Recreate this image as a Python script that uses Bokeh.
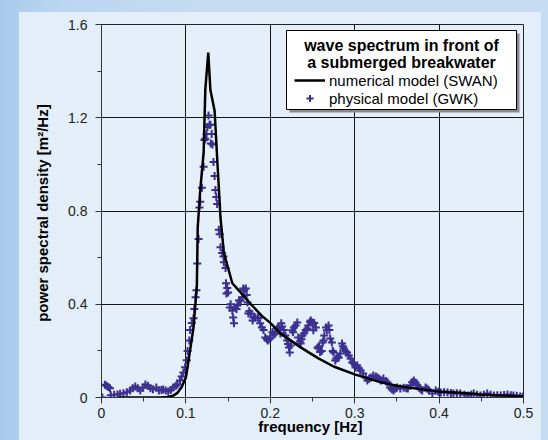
from bokeh.plotting import figure
from bokeh.embed import file_html
from bokeh.resources import INLINE
from bokeh.models import (Range1d, FixedTicker, Label, BoxAnnotation, Legend,
                          LegendItem, BasicTickFormatter)

# ---- data -------------------------------------------------------------
swan_f = [0.02, 0.03, 0.04, 0.05, 0.06, 0.07, 0.078, 0.085, 0.09, 0.095, 0.1,
          0.104, 0.109, 0.111, 0.113, 0.114, 0.117, 0.121, 0.123, 0.1265, 0.129,
          0.134, 0.137, 0.141, 0.145, 0.155, 0.165, 0.177, 0.19, 0.2, 0.212,
          0.224, 0.236, 0.256, 0.275, 0.3, 0.33, 0.35, 0.375, 0.4, 0.425, 0.45,
          0.475, 0.5]
swan_s = [0, 0, 0, 0, 0, 0, 0.002, 0.008, 0.02, 0.045, 0.086,
          0.18, 0.30, 0.39, 0.48, 0.73, 0.89, 1.05, 1.32, 1.48, 1.32,
          1.23, 1.03, 0.77, 0.62, 0.49, 0.45, 0.40, 0.35, 0.32, 0.275,
          0.245, 0.215, 0.17, 0.133, 0.099, 0.066, 0.05, 0.037, 0.026, 0.02, 0.013,
          0.009, 0.005]

gwk_f = [0.001, 0.004, 0.006, 0.008, 0.010, 0.011, 0.015, 0.019, 0.022, 0.026,
         0.030, 0.034, 0.037, 0.040, 0.043, 0.046, 0.049, 0.052, 0.055, 0.058,
         0.061, 0.065, 0.068, 0.071, 0.073, 0.076, 0.079, 0.082, 0.085, 0.088,
         0.090, 0.093, 0.095, 0.097, 0.099, 0.101, 0.102, 0.104, 0.105, 0.107,
         0.109, 0.110, 0.1115, 0.1125, 0.1135, 0.115, 0.116, 0.117, 0.119, 0.121,
         0.122, 0.123, 0.1245, 0.1255, 0.1268, 0.128, 0.129, 0.1295, 0.1305, 0.1315,
         0.1327, 0.134, 0.135, 0.136, 0.137, 0.139, 0.140, 0.141, 0.143, 0.1445,
         0.145, 0.147, 0.1475, 0.148, 0.149, 0.150, 0.152, 0.153, 0.155, 0.156,
         0.157, 0.158, 0.160, 0.161, 0.163, 0.165, 0.167, 0.168, 0.169, 0.171,
         0.172, 0.173, 0.174, 0.175, 0.177, 0.179, 0.180, 0.182, 0.185, 0.186,
         0.188, 0.190, 0.192, 0.194, 0.196, 0.197, 0.199, 0.200, 0.2025, 0.204,
         0.206, 0.208, 0.210, 0.212, 0.213, 0.214, 0.216, 0.218, 0.220, 0.221,
         0.222, 0.223, 0.224, 0.226, 0.227, 0.228, 0.230, 0.232, 0.233, 0.235,
         0.236, 0.237, 0.238, 0.240, 0.242, 0.244, 0.245, 0.247, 0.248, 0.250,
         0.251, 0.252, 0.254, 0.256, 0.257, 0.258, 0.259, 0.261, 0.262, 0.263,
         0.264, 0.266, 0.267, 0.269, 0.270, 0.271, 0.273, 0.274, 0.275, 0.277,
         0.278, 0.280, 0.281, 0.283, 0.285, 0.286, 0.287, 0.289, 0.291, 0.293,
         0.295, 0.297, 0.299, 0.301, 0.303, 0.305, 0.307, 0.310, 0.313, 0.315,
         0.317, 0.319, 0.322, 0.325, 0.327, 0.329, 0.331, 0.334, 0.337, 0.339,
         0.342, 0.344, 0.346, 0.348, 0.350, 0.354, 0.358, 0.361, 0.363, 0.366,
         0.368, 0.370, 0.372, 0.374, 0.376, 0.378, 0.380, 0.384, 0.386, 0.388,
         0.392, 0.396, 0.399, 0.402, 0.406, 0.410, 0.414, 0.417, 0.421, 0.425,
         0.430, 0.434, 0.438, 0.441, 0.445, 0.449, 0.453, 0.457, 0.461, 0.465,
         0.469, 0.473, 0.477, 0.481, 0.485, 0.488, 0.492, 0.496, 0.499]
gwk_s = [0.0, 0.055, 0.05, 0.045, 0.04, 0.01, 0.012, 0.013, 0.016, 0.018,
         0.022, 0.03, 0.04, 0.047, 0.04, 0.03, 0.042, 0.056, 0.05, 0.04,
         0.035, 0.043, 0.03, 0.032, 0.034, 0.03, 0.026, 0.032, 0.043, 0.05,
         0.056, 0.073, 0.09, 0.107, 0.13, 0.16, 0.2, 0.245, 0.29, 0.32,
         0.34, 0.38, 0.43, 0.46, 0.575, 0.68, 0.815, 0.84, 0.90, 0.99,
         1.105, 1.11, 1.13, 1.16, 1.21, 1.17, 1.17, 1.09, 1.13, 1.085,
         1.01, 0.95, 0.89, 0.86, 0.83, 0.72, 0.70, 0.645, 0.62, 0.605,
         0.58, 0.555, 0.49, 0.446, 0.47, 0.45, 0.386, 0.40, 0.373, 0.343,
         0.318, 0.386, 0.38, 0.395, 0.416, 0.416, 0.43, 0.468, 0.46, 0.468,
         0.44, 0.408, 0.36, 0.37, 0.36, 0.33, 0.343, 0.343, 0.343, 0.34,
         0.318, 0.30, 0.29, 0.257, 0.25, 0.245, 0.25, 0.257, 0.28, 0.27,
         0.275, 0.296, 0.30, 0.275, 0.318, 0.305, 0.29, 0.266, 0.245, 0.23,
         0.215, 0.193, 0.223, 0.288, 0.28, 0.30, 0.309, 0.322, 0.257, 0.24,
         0.232, 0.25, 0.266, 0.275, 0.29, 0.296, 0.309, 0.325, 0.33, 0.322,
         0.288, 0.32, 0.3, 0.215, 0.21, 0.22, 0.195, 0.2, 0.236, 0.245,
         0.266, 0.3, 0.288, 0.309, 0.29, 0.253, 0.236, 0.2, 0.193, 0.159,
         0.167, 0.17, 0.172, 0.189, 0.232, 0.22, 0.21, 0.2, 0.193, 0.18,
         0.167, 0.15, 0.146, 0.129, 0.137, 0.125, 0.116, 0.103, 0.086, 0.073,
         0.08, 0.086, 0.094, 0.09, 0.086, 0.08, 0.073, 0.082, 0.07, 0.064,
         0.043, 0.035, 0.03, 0.038, 0.043, 0.039, 0.042, 0.04, 0.039, 0.052,
         0.065, 0.073, 0.064, 0.055, 0.043, 0.035, 0.03, 0.043, 0.038, 0.03,
         0.017, 0.03, 0.025, 0.021, 0.022, 0.021, 0.019, 0.017, 0.018, 0.017,
         0.012, 0.009, 0.013, 0.017, 0.012, 0.009, 0.012, 0.017, 0.012, 0.009,
         0.01, 0.009, 0.011, 0.013, 0.01, 0.009, 0.007, 0.004, 0.003]

x_ticks = [0, 0.1, 0.2, 0.3, 0.4, 0.5]
x_minor = [0.05, 0.15, 0.25, 0.35, 0.45]
y_ticks = [0, 0.4, 0.8, 1.2, 1.6]
y_minor = [0.2, 0.6, 1.0, 1.4]

FONT = "Liberation Sans"

p = figure(width=548, height=440, output_backend="svg", toolbar_location=None,
           x_range=Range1d(0, 0.5), y_range=Range1d(0, 1.6),
           min_border_left=101, min_border_right=25, min_border_top=24,
           min_border_bottom=43, background_fill_color="#e4eff9",
           border_fill_alpha=0, outline_line_color="#222222")
p.styles = {"background": "linear-gradient(#e3eef8, #e3eef8) 19px 12px / 522px 428px no-repeat, "
                          "linear-gradient(to right, #a8caeb 0px, #bcd6f0 60px, #c5dcf2 220px)"}

for ax, ticks, minor in ((p.xaxis, x_ticks, x_minor), (p.yaxis, y_ticks, y_minor)):
    ax.ticker = FixedTicker(ticks=ticks, minor_ticks=minor)
    ax.formatter = BasicTickFormatter(precision=1)
    ax.major_label_overrides = {0: "0"}
    ax.major_tick_out = 6
    ax.major_tick_in = 0
    ax.minor_tick_out = 4
    ax.minor_tick_in = 0
    ax.axis_line_color = "#333333"
    ax.major_tick_line_color = "#333333"
    ax.minor_tick_line_color = "#333333"
    ax.major_label_text_font = FONT
    ax.major_label_text_font_size = "14px"
    ax.major_label_text_color = "#222222"
    ax.axis_label_text_font = FONT
    ax.axis_label_text_font_style = "bold"
    ax.axis_label_text_color = "black"

p.xaxis.major_label_standoff = 4
p.xaxis.axis_label = "frequency  [Hz]"
p.xaxis.axis_label_text_font_size = "15px"
p.xaxis.axis_label_standoff = -3

p.yaxis.major_label_standoff = 8
p.yaxis.axis_label = "power spectral density  [m²/Hz]"
p.yaxis.axis_label_text_font_size = "15px"
p.yaxis.axis_label_standoff = 14

p.xgrid.ticker = FixedTicker(ticks=x_ticks[1:-1])
p.ygrid.ticker = FixedTicker(ticks=y_ticks[1:-1])
for g in (p.xgrid, p.ygrid):
    g.grid_line_color = "#151515"
    g.grid_line_width = 1

pts = p.scatter(gwk_f, gwk_s, marker="cross", size=8, line_width=2,
                color="#3b2f8f")
ln = p.line(swan_f, swan_s, line_color="black", line_width=2.5)

# legend box with shadow
p.add_layout(BoxAnnotation(left=188, right=418, top=364, bottom=285,
                           left_units="screen", right_units="screen",
                           top_units="screen", bottom_units="screen",
                           fill_color="#8a8a8a", fill_alpha=1, line_alpha=0))
p.add_layout(BoxAnnotation(left=185, right=415, top=367, bottom=288,
                           left_units="screen", right_units="screen",
                           top_units="screen", bottom_units="screen",
                           fill_color="white", fill_alpha=1,
                           line_color="black", line_width=1, line_alpha=1))
for txt, yy in (("wave spectrum in front of", 352), ("a submerged breakwater", 335)):
    p.add_layout(Label(x=300, y=yy, x_units="screen", y_units="screen",
                       text=txt, text_align="center", text_baseline="middle",
                       text_font=FONT, text_font_style="bold",
                       text_font_size="16px", text_color="black"))

legend = Legend(items=[LegendItem(label="numerical model (SWAN)", renderers=[ln]),
                       LegendItem(label="physical model (GWK)", renderers=[pts])],
                location=(193, 290), padding=0, margin=0, spacing=0,
                glyph_width=31, glyph_height=18, label_height=18,
                label_standoff=4, label_text_font=FONT,
                label_text_font_size="15px", label_text_color="black",
                border_line_alpha=0, background_fill_alpha=0)
p.add_layout(legend)

open("out.html", "w").write(file_html(p, INLINE))
